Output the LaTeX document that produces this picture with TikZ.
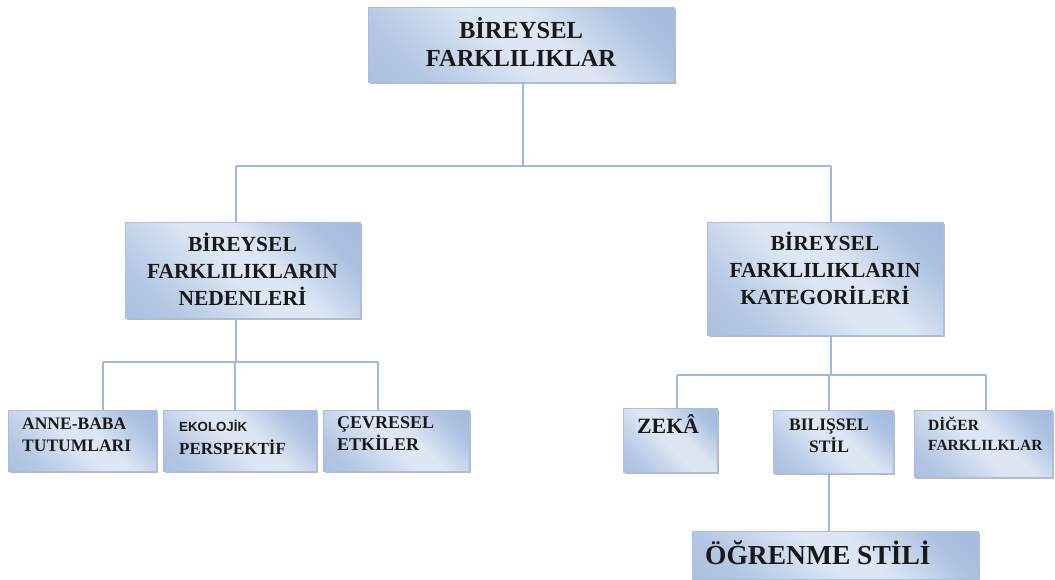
\documentclass[tikz,border=0pt]{standalone}
\usepackage{fontspec}
\setmainfont{Liberation Serif}
\newfontfamily\labelsans{Liberation Sans}
\usetikzlibrary{shadows}
\definecolor{boxdark}{HTML}{95B0D8}
\definecolor{boxdarkish}{HTML}{ADC2E2}
\definecolor{boxmid}{HTML}{9FB7DC}
\definecolor{boxmidish}{HTML}{B4C7E4}
\definecolor{boxlight}{HTML}{DDE6F3}
\definecolor{boxedge}{HTML}{A8C0E0}
\definecolor{linkblue}{HTML}{9DB9DE}
\pgfdeclareverticalshading{boxshade}{100bp}{
  color(0bp)=(boxmid); color(26bp)=(boxmidish); color(47bp)=(boxlight);
  color(57bp)=(boxlight); color(74bp)=(boxdarkish); color(100bp)=(boxdark)}
\tikzset{
  x=1pt, y=-1pt,
  box/.style={draw=boxedge, line width=0.8pt, rectangle, inner sep=0pt,
    anchor=north west, shading=boxshade, shading angle=-45,
    drop shadow={shadow xshift=2pt, shadow yshift=-2pt, opacity=0.45, fill=black!60}},
  conn/.style={draw=linkblue, line width=1.6pt},
  lbl/.style={font=\bfseries, inner sep=0pt, align=center, text=black!90},
  lleft/.style={font=\bfseries, inner sep=0pt, align=left, anchor=north west, text=black!90},
}
\begin{document}
\begin{tikzpicture}
\useasboundingbox (0,0) rectangle (1055,580);

% boxes
\node[box, minimum width=306pt, minimum height=75pt] (top) at (368,7) {};
\node[box, minimum width=235pt, minimum height=96pt] (ned) at (125,222) {};
\node[box, minimum width=236pt, minimum height=113pt] (kat) at (707,222) {};
\node[box, minimum width=148pt, minimum height=61pt] (anne) at (8,410) {};
\node[box, minimum width=153pt, minimum height=61pt] (eko) at (163,410) {};
\node[box, minimum width=146pt, minimum height=61pt] (cev) at (323,410) {};
\node[box, minimum width=94pt, minimum height=64pt] (zeka) at (623,408) {};
\node[box, minimum width=120pt, minimum height=63pt] (bil) at (773,410) {};
\node[box, minimum width=138pt, minimum height=67pt] (diger) at (914,410) {};
\node[box, minimum width=286pt, minimum height=48pt] (ogr) at (692,531) {};

% texts
\node[lbl, font=\fontsize{24.5}{28}\selectfont\bfseries] (ttop) at (521,42) {BİREYSEL\\FARKLILIKLAR};
\node[lbl, font=\fontsize{21.5}{27}\selectfont\bfseries] (tned) at (242.5,269) {BİREYSEL\\FARKLILIKLARIN\\NEDENLERİ};
\node[lbl, font=\fontsize{21.5}{27}\selectfont\bfseries] (tkat) at (825,268) {BİREYSEL\\FARKLILIKLARIN\\KATEGORİLERİ};
\node[lleft, font=\fontsize{17.5}{22}\selectfont\bfseries] (tanne) at (22,418) {ANNE-BABA\\TUTUMLARI};
\node[lleft, font=\fontsize{13.3}{17}\selectfont\bfseries\labelsans] (teko1) at (179,420) {EKOLOJİK};
\node[lleft, font=\fontsize{17}{22}\selectfont\bfseries] (teko2) at (179,440) {PERSPEKTİF};
\node[lleft, font=\fontsize{18}{22}\selectfont\bfseries] (tcev) at (337,416) {ÇEVRESEL\\ETKİLER};
\node[lleft, font=\fontsize{21.8}{26}\selectfont\bfseries] (tzeka) at (637,414) {ZEKÂ};
\node[lbl, font=\fontsize{17.5}{22}\selectfont\bfseries] (tbil) at (829,436) {BILIŞSEL\\STİL};
\node[lleft, font=\fontsize{15.5}{19.5}\selectfont\bfseries] (tdiger) at (928,417) {DİĞER\\FARKLILKLAR};
\node[lleft, font=\fontsize{27.5}{30}\selectfont\bfseries] (togr) at (705,540) {ÖĞRENME STİLİ};

% junction points of the connector tree
\coordinate (jtop) at (523,166);
\coordinate (jl) at (236,166);
\coordinate (jr) at (831,166);
\coordinate (jned) at (236,362);
\coordinate (jn1) at (103,362);
\coordinate (jn2) at (235,362);
\coordinate (jn3) at (378,362);
\coordinate (jkat) at (831,375);
\coordinate (jk1) at (677,375);
\coordinate (jk2) at (829,375);
\coordinate (jk3) at (986,375);

% connectors
\draw[conn] (jtop |- top.south) -- (jtop);
\draw[conn] (jl) -- (jr);
\draw[conn] (jl) -- (jl |- ned.north);
\draw[conn] (jr) -- (jr |- kat.north);

\draw[conn] (jned |- ned.south) -- (jned);
\draw[conn] (jn1) -- (jn3);
\draw[conn] (jn1) -- (jn1 |- anne.north);
\draw[conn] (jn2) -- (jn2 |- eko.north);
\draw[conn] (jn3) -- (jn3 |- cev.north);

\draw[conn] (jkat |- kat.south) -- (jkat);
\draw[conn] (jk1) -- (jk3);
\draw[conn] (jk1) -- (jk1 |- zeka.north);
\draw[conn] (jk2) -- (jk2 |- bil.north);
\draw[conn] (jk3) -- (jk3 |- diger.north);

\draw[conn] (jk2 |- bil.south) -- (jk2 |- ogr.north);
\end{tikzpicture}
\end{document}
